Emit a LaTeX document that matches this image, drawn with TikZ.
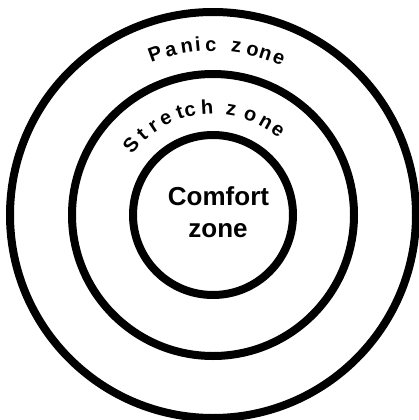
\documentclass[tikz,border=0pt]{standalone}
\usepackage{fontspec}
\setmainfont{Liberation Sans}
\begin{document}
\begin{tikzpicture}[x=1pt,y=-1pt,
  ring/.style={line width=8pt, draw=black},
  arcletter/.style={font=\bfseries\fontsize{20}{20}\selectfont, inner sep=0pt, anchor=base},
  centertext/.style={font=\bfseries\fontsize{26}{31}\selectfont, inner sep=0pt, anchor=base}]
\useasboundingbox (0,0) rectangle (418,420);
\coordinate (c) at (213,215);
\draw[ring] (c) circle[radius=203];
\draw[ring] (c) circle[radius=141];
\draw[ring] (c) circle[radius=80];
% Panic zone
\foreach \ch/\a [count=\i] in {P/-19.8, a/-14.4, n/-8.9, i/-5.1, c/-0.7, z/7.9, o/13.5, n/18, e/22.8}
  \node[arcletter, rotate=-\a] (p\i) at ({213+164*sin(\a)},{215-164*cos(\a)}) {\ch};
% Stretch zone
\foreach \ch/\a [count=\i] in {S/-49.5, t/-41.2, r/-33.7, e/-26.3, t/-18.0, c/-12.4, h/-3.2, z/9.8, o/20.5, n/29.6, e/37.3}
  \node[arcletter, rotate=-\a] (s\i) at ({213+101*sin(\a)},{215-101*cos(\a)}) {\ch};
\node[centertext] (comfort) at (218.5,205) {Comfort};
\node[centertext] (zone) at (218,237) {zone};
\end{tikzpicture}
\end{document}
